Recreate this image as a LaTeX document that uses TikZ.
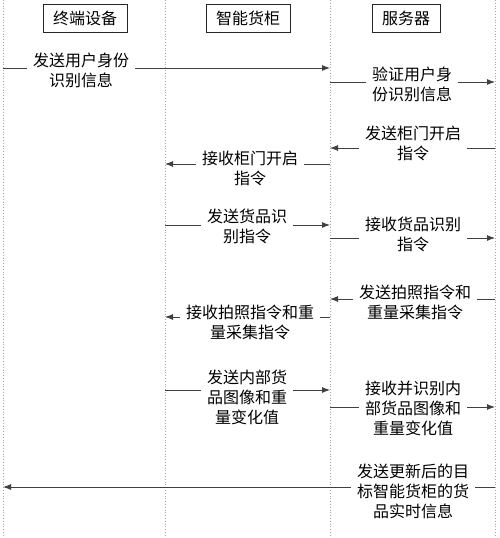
\documentclass[tikz,border=0pt]{standalone}
\usepackage{fontspec}
\newfontfamily\cjk{Noto Sans CJK SC}
\usetikzlibrary{arrows.meta}
\tikzset{
  lane/.style={draw=black!35, dotted, line width=0.8pt},
  head/.style={draw=black!85, line width=1pt, minimum height=28pt, inner xsep=10pt, font=\cjk\fontsize{16}{20}\selectfont},
  msgtext/.style={align=center, inner xsep=6pt, inner ysep=0pt, font=\cjk\fontsize{16}{20}\selectfont},
  msg/.style={draw=black!75, line width=0.9pt},
  msgarrow/.style={msg, -{Latex[length=8pt,width=6pt]}}
}
\begin{document}
\begin{tikzpicture}[x=1pt,y=-1pt]
\useasboundingbox (0,0) rectangle (500,538);
% lifelines
\coordinate (L1t) at (3,0);   \coordinate (L1b) at (3,538);
\coordinate (L2t) at (165,0); \coordinate (L2b) at (165,538);
\coordinate (L3t) at (330,0); \coordinate (L3b) at (330,538);
\coordinate (L4t) at (495,0); \coordinate (L4b) at (495,538);
\draw[lane] (L1t) -- (L1b);
\draw[lane] (L2t) -- (L2b);
\draw[lane] (L3t) -- (L3b);
\draw[lane] (L4t) -- (L4b);
% headers
\node[head] (dev) at (85,18) {终端设备};
\node[head] (cab) at (248,18) {智能货柜};
\node[head] (srv) at (406,18) {服务器};
% message 1
\coordinate (m1a) at (3,68);
\coordinate (m1b) at (330,68);
\node[msgtext] (t1) at (81,70) {发送用户身份\\识别信息};
\draw[msg] (m1a) -- (m1a -| t1.west);
\draw[msgarrow] (m1b -| t1.east) -- (m1b);
% message 2
\coordinate (m2a) at (330,82);
\coordinate (m2b) at (495,82);
\node[msgtext] (t2) at (412,84) {验证用户身\\份识别信息};
\draw[msg] (m2a) -- (m2a -| t2.west);
\draw[msgarrow] (m2b -| t2.east) -- (m2b);
% message 3
\coordinate (m3a) at (495,148);
\coordinate (m3b) at (330,148);
\node[msgtext] (t3) at (413,143) {发送柜门开启\\指令};
\draw[msg] (m3a) -- (m3a -| t3.east);
\draw[msgarrow] (m3b -| t3.west) -- (m3b);
% message 4
\coordinate (m4a) at (330,164);
\coordinate (m4b) at (165,164);
\node[msgtext] (t4) at (250,168) {接收柜门开启\\指令};
\draw[msg] (m4a) -- (m4a -| t4.east);
\draw[msgarrow] (m4b -| t4.west) -- (m4b);
% message 5
\coordinate (m5a) at (165,225);
\coordinate (m5b) at (330,225);
\node[msgtext] (t5) at (247,226) {发送货品识\\别指令};
\draw[msg] (m5a) -- (m5a -| t5.west);
\draw[msgarrow] (m5b -| t5.east) -- (m5b);
% message 6
\coordinate (m6a) at (330,238);
\coordinate (m6b) at (495,238);
\node[msgtext] (t6) at (413,234) {接收货品识别\\指令};
\draw[msg] (m6a) -- (m6a -| t6.west);
\draw[msgarrow] (m6b -| t6.east) -- (m6b);
% message 7
\coordinate (m7a) at (495,299);
\coordinate (m7b) at (330,299);
\node[msgtext] (t7) at (415,302) {发送拍照指令和\\重量采集指令};
\draw[msg] (m7a) -- (m7a -| t7.east);
\draw[msgarrow] (m7b -| t7.west) -- (m7b);
% message 8
\coordinate (m8a) at (330,317);
\coordinate (m8b) at (165,317);
\node[msgtext] (t8) at (250,322) {接收拍照指令和重\\量采集指令};
\draw[msg] (m8a) -- (m8a -| t8.east);
\draw[msgarrow] (m8b -| t8.west) -- (m8b);
% message 9
\coordinate (m9a) at (165,390);
\coordinate (m9b) at (330,390);
\node[msgtext] (t9) at (247,397) {发送内部货\\品图像和重\\量变化值};
\draw[msg] (m9a) -- (m9a -| t9.west);
\draw[msgarrow] (m9b -| t9.east) -- (m9b);
% message 10
\coordinate (m10a) at (330,407);
\coordinate (m10b) at (495,407);
\node[msgtext] (t10) at (413,408) {接收并识别内\\部货品图像和\\重量变化值};
\draw[msg] (m10a) -- (m10a -| t10.west);
\draw[msgarrow] (m10b -| t10.east) -- (m10b);
% message 11
\coordinate (m11a) at (495,487);
\coordinate (m11b) at (3,487);
\node[msgtext] (t11) at (413,491) {发送更新后的目\\标智能货柜的货\\品实时信息};
\draw[msg] (m11a) -- (m11a -| t11.east);
\draw[msgarrow] (m11b -| t11.west) -- (m11b);
\end{tikzpicture}
\end{document}
